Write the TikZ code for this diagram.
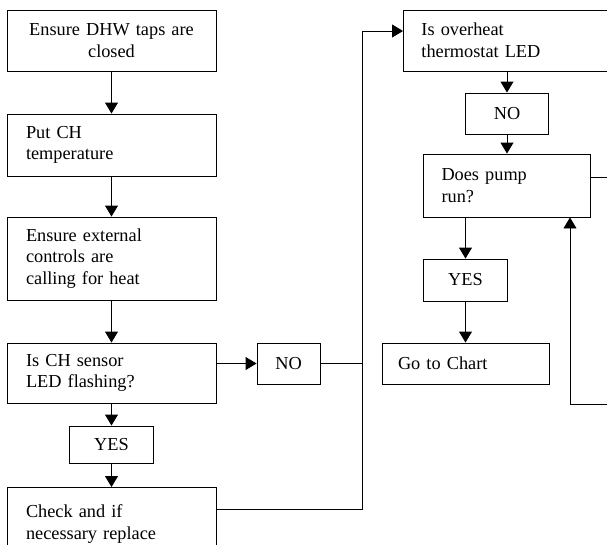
\documentclass[tikz,border=0pt]{standalone}
\usepackage{fontspec}
\setmainfont{Liberation Serif}
\usetikzlibrary{arrows.meta}

\begin{document}
\begin{tikzpicture}[x=1pt,y=-1pt,font=\fontsize{18.3}{21.7}\selectfont,
  tbox/.style={draw,line width=0.9pt,inner ysep=0pt,inner xsep=19pt,text width=171pt,align=left},
  answer/.style={draw,line width=0.9pt,inner sep=0pt,align=center},
  arr/.style={line width=0.9pt,-{Triangle[length=11pt,width=13pt]}},
  link/.style={line width=0.9pt}]
  \useasboundingbox (0,0) rectangle (607,544);
  \clip (0,0) rectangle (607,544);
  % left column
  \node[tbox,align=center,minimum height=61pt] (taps) at (111.5,40.5) {Ensure DHW taps are\\closed};
  \node[tbox,minimum height=62pt] (temp) at (111.5,145) {Put CH\\temperature};
  \node[tbox,minimum height=83pt] (controls) at (111.5,258.5) {Ensure external\\controls are\\calling for heat};
  \node[tbox,minimum height=60pt] (sensor) at (111.5,373) {Is CH sensor\\LED flashing?};
  \node[answer,minimum width=84pt,minimum height=37pt] (yesA) at (111.5,444.5) {YES};
  \node[tbox,anchor=north,inner ysep=17pt,text height=13pt,text depth=100pt] (check) at (111.5,487) {Check and if\\necessary replace};
  \node[answer,minimum width=63pt,minimum height=41pt] (noA) at (288.5,363.5) {NO};
  % right column
  \node[tbox,anchor=west,inner xsep=18pt,text width=191pt,minimum height=61pt] (overheat) at (403,40.5) {Is overheat\\thermostat LED};
  \node[answer,minimum width=83pt,minimum height=41pt] (noB) at (507,113.5) {NO};
  \node[tbox,inner xsep=18pt,text width=131pt,minimum height=63pt] (pump) at (507,185.5) {Does pump\\run?};
  \node[answer,minimum width=84pt,minimum height=42pt] (yesB) at (465.5,280) {YES};
  \node[tbox,inner xsep=16pt,text width=135pt,minimum height=41pt] (chart) at (465.5,363.5) {Go to Chart};
  \coordinate (bend) at (362,509); \coordinate (riser) at (362,31);
  \coordinate (outA) at (620,177); \coordinate (outB) at (620,404); \coordinate (back) at (570,404);
  % connectors
  \draw[arr] (taps) -- (temp);
  \draw[arr] (temp) -- (controls);
  \draw[arr] (controls) -- (sensor);
  \draw[arr] (sensor) -- (yesA);
  \draw[arr] (yesA) -- (check);
  \draw[arr] (sensor.east |- noA) -- (noA);
  \draw[link] (noA) -- (noA -| riser);
  \draw[arr] (check.east |- bend) -| (riser) -- (riser -| overheat.west);
  \draw[arr] (overheat.south -| noB) -- (noB);
  \draw[arr] (noB) -- (pump);
  \draw[arr] (pump.south -| yesB) -- (yesB);
  \draw[arr] (yesB) -- (chart);
  \draw[link] (pump.east |- outA) -- (outA);
  \draw[arr] (outB) -- (back) -- (back |- pump.south);
\end{tikzpicture}
\end{document}
